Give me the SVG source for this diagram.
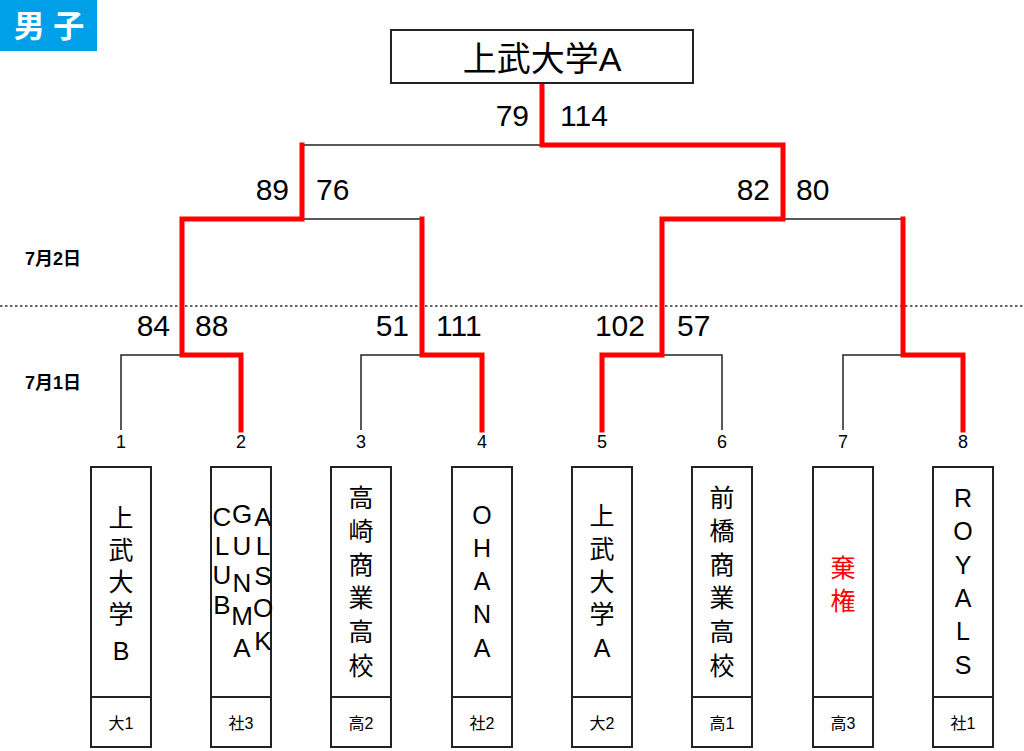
<svg xmlns="http://www.w3.org/2000/svg" width="1024" height="751" viewBox="0 0 1024 751">
<style>
.t{font-family:"Liberation Sans","Noto Sans CJK JP",sans-serif;fill:#000}
.box{fill:#fff;stroke:#222;stroke-width:2}
.nm{font-size:25px;text-anchor:middle}
.sm{font-size:26px;text-anchor:middle}
.lb{font-size:16px;text-anchor:middle}
.num{font-size:18px;text-anchor:middle}
.sc{font-size:30px}
.blk{fill:none;stroke:#222;stroke-width:1.5}
.red{fill:none;stroke:#ff0000;stroke-width:5;stroke-linejoin:miter;stroke-linecap:square}
.day{font-size:18px;font-weight:bold}
</style>
<rect width="1024" height="751" fill="#fff"/>
<g id="header">
<rect x="0" y="0" width="97" height="51" fill="#00a0e9"/>
<text class="t" x="49" y="37" font-size="31" font-weight="bold" text-anchor="middle" style="fill:#fff">男 子</text>
</g>
<g id="days">
<text class="t day" x="25" y="265">7月2日</text>
<text class="t day" x="25" y="389">7月1日</text>
<line x1="0" y1="306" x2="1024" y2="306" stroke="#333" stroke-width="1.5" stroke-dasharray="2.5 2.5"/>
</g>
<g id="connectors">
<path class="blk" d="M121,430 V355 H182"/>
<path class="blk" d="M361,430 V355 H422"/>
<path class="blk" d="M722,430 V355 H662"/>
<path class="blk" d="M843,430 V355 H903"/>
<path class="blk" d="M302,219 H422"/>
<path class="blk" d="M783,219 H903"/>
<path class="blk" d="M302,145 H542"/>
<path class="red" d="M241,430 V355 H182 V219 H302 V145"/>
<path class="red" d="M482,430 V355 H422 V219"/>
<path class="red" d="M963,430 V355 H903 V219"/>
<path class="red" d="M542,85 V145 H783 V219 H662 V355 H602 V430"/>
</g>
<g id="scores" class="t">
<text class="sc" x="529" y="126" text-anchor="end">79</text>
<text class="sc" x="560" y="126">114</text>
<text class="sc" x="289" y="200" text-anchor="end">89</text>
<text class="sc" x="316" y="200">76</text>
<text class="sc" x="770" y="200" text-anchor="end">82</text>
<text class="sc" x="796" y="200">80</text>
<text class="sc" x="170" y="336" text-anchor="end">84</text>
<text class="sc" x="195" y="336">88</text>
<text class="sc" x="409" y="336" text-anchor="end">51</text>
<text class="sc" x="436" y="336">111</text>
<text class="sc" x="645" y="336" text-anchor="end">102</text>
<text class="sc" x="677" y="336">57</text>
</g>
<g id="champion">
<rect class="box" x="391" y="30" width="302" height="53"/>
<text class="t" x="542" y="71" font-size="34" text-anchor="middle">上武大学A</text>
</g>
<g id="seeds" class="t num">
<text x="121" y="448">1</text>
<text x="241" y="448">2</text>
<text x="361" y="448">3</text>
<text x="482" y="448">4</text>
<text x="602" y="448">5</text>
<text x="722" y="448">6</text>
<text x="843" y="448">7</text>
<text x="963" y="448">8</text>
</g>
<g id="team1">
<rect class="box" x="91" y="467" width="60" height="280"/><line class="box" x1="91" y1="697" x2="151" y2="697"/>
<text class="t nm"><tspan x="121" y="527">上</tspan><tspan x="121" y="559">武</tspan><tspan x="121" y="591">大</tspan><tspan x="121" y="623">学</tspan><tspan x="121" y="660">B</tspan></text>
<text class="t lb" x="121" y="729">大1</text>
</g>
<g id="team2">
<rect class="box" x="211" y="467" width="60" height="280"/><line class="box" x1="211" y1="697" x2="271" y2="697"/>
<text class="t sm"><tspan x="222" y="526">C</tspan><tspan x="222" y="555">L</tspan><tspan x="222" y="584">U</tspan><tspan x="222" y="614">B</tspan></text>
<text class="t sm"><tspan x="242" y="523">G</tspan><tspan x="242" y="555">U</tspan><tspan x="242" y="592">N</tspan><tspan x="242" y="625">M</tspan><tspan x="242" y="657">A</tspan></text>
<text class="t sm"><tspan x="263" y="526">A</tspan><tspan x="263" y="555">L</tspan><tspan x="263" y="585">S</tspan><tspan x="263" y="617">O</tspan><tspan x="263" y="650">K</tspan></text>
<text class="t lb" x="241" y="729">社3</text>
</g>
<g id="team3">
<rect class="box" x="331" y="467" width="60" height="280"/><line class="box" x1="331" y1="697" x2="391" y2="697"/>
<text class="t nm"><tspan x="361" y="507">高</tspan><tspan x="361" y="540">崎</tspan><tspan x="361" y="574">商</tspan><tspan x="361" y="607">業</tspan><tspan x="361" y="641">高</tspan><tspan x="361" y="675">校</tspan></text>
<text class="t lb" x="361" y="729">高2</text>
</g>
<g id="team4">
<rect class="box" x="452" y="467" width="60" height="280"/><line class="box" x1="452" y1="697" x2="512" y2="697"/>
<text class="t nm"><tspan x="482" y="524">O</tspan><tspan x="482" y="557">H</tspan><tspan x="482" y="590">A</tspan><tspan x="482" y="623">N</tspan><tspan x="482" y="657">A</tspan></text>
<text class="t lb" x="482" y="729">社2</text>
</g>
<g id="team5">
<rect class="box" x="572" y="467" width="60" height="280"/><line class="box" x1="572" y1="697" x2="632" y2="697"/>
<text class="t nm"><tspan x="602" y="525">上</tspan><tspan x="602" y="558">武</tspan><tspan x="602" y="591">大</tspan><tspan x="602" y="623">学</tspan><tspan x="602" y="657">A</tspan></text>
<text class="t lb" x="602" y="729">大2</text>
</g>
<g id="team6">
<rect class="box" x="692" y="467" width="60" height="280"/><line class="box" x1="692" y1="697" x2="752" y2="697"/>
<text class="t nm"><tspan x="722" y="507">前</tspan><tspan x="722" y="540">橋</tspan><tspan x="722" y="574">商</tspan><tspan x="722" y="607">業</tspan><tspan x="722" y="641">高</tspan><tspan x="722" y="675">校</tspan></text>
<text class="t lb" x="722" y="729">高1</text>
</g>
<g id="team7">
<rect class="box" x="813" y="467" width="60" height="280"/><line class="box" x1="813" y1="697" x2="873" y2="697"/>
<text class="t nm" style="fill:#ff0000"><tspan x="843" y="577">棄</tspan><tspan x="843" y="610">権</tspan></text>
<text class="t lb" x="843" y="729">高3</text>
</g>
<g id="team8">
<rect class="box" x="933" y="467" width="60" height="280"/><line class="box" x1="933" y1="697" x2="993" y2="697"/>
<text class="t nm"><tspan x="963" y="507">R</tspan><tspan x="963" y="540">O</tspan><tspan x="963" y="574">Y</tspan><tspan x="963" y="607">A</tspan><tspan x="963" y="640">L</tspan><tspan x="963" y="674">S</tspan></text>
<text class="t lb" x="963" y="729">社1</text>
</g>
</svg>
